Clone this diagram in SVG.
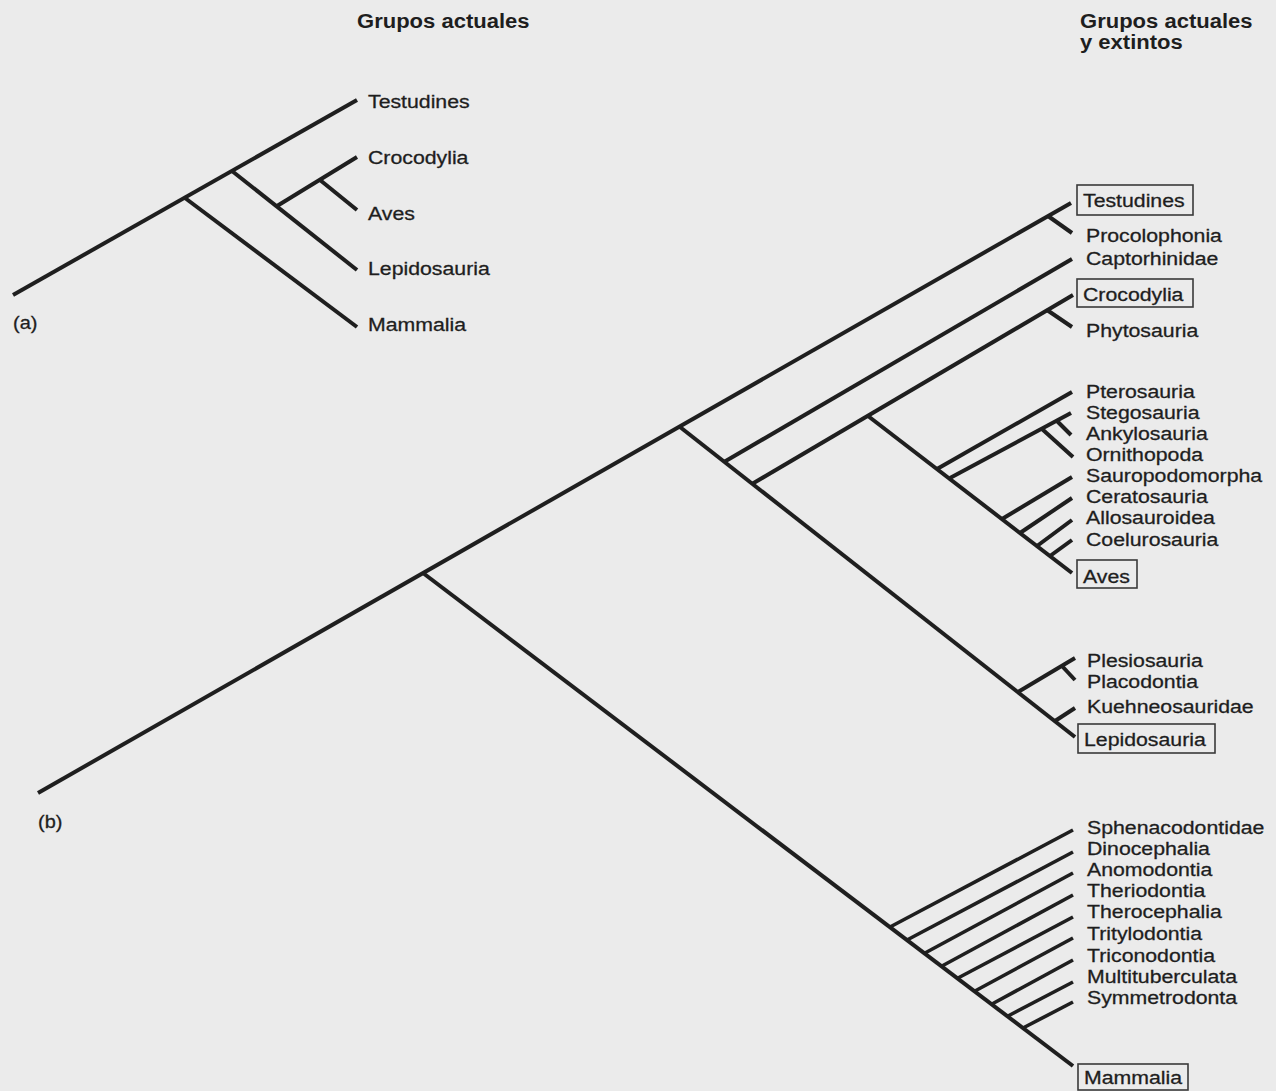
<svg xmlns="http://www.w3.org/2000/svg" width="1276" height="1091" viewBox="0 0 1276 1091">
<style>
.bg{fill:#ebebeb}
.ln{stroke:#1f1f1f;stroke-width:4;fill:none;stroke-linecap:butt}
.thin{stroke-width:3.6}
.t{font-family:"Liberation Sans",Arial,sans-serif;font-size:19px;fill:#1e1e1e;stroke:#1e1e1e;stroke-width:0.3}
.h{font-family:"Liberation Sans",Arial,sans-serif;font-size:19.5px;font-weight:bold;fill:#1e1e1e}
.box{fill:none;stroke:#3a3a3a;stroke-width:1.6}
</style>
<rect class="bg" x="0" y="0" width="1276" height="1091"/>

<g id="headers">
<text class="h" transform="translate(357,28) scale(1.13,1)">Grupos actuales</text>
<text class="h" transform="translate(1080,28) scale(1.13,1)">Grupos actuales</text>
<text class="h" transform="translate(1080,49) scale(1.13,1)">y extintos</text>
</g>

<g id="connectors">
<!-- panel a -->
<path class="ln" d="M13,295 L357,100"/>
<path class="ln" d="M185,198 L357,327"/>
<path class="ln" d="M232,171 L357,270"/>
<path class="ln" d="M277,206 L357,157"/>
<path class="ln" d="M320,180 L357,210"/>
<!-- panel b -->
<path class="ln" d="M38,793 L1071,203"/>
<path class="ln" d="M1048,216 L1072,233"/>
<path class="ln" d="M680,427 L1075,737"/>
<path class="ln" d="M724,462 L1072,259"/>
<path class="ln" d="M752,484 L1073,295"/>
<path class="ln" d="M1047,310 L1072,327"/>
<path class="ln" d="M868,416 L1072,573"/>
<path class="ln" d="M937,469 L1072,392"/>
<path class="ln" d="M950,478 L1071,413"/>
<path class="ln" d="M1042,429 L1073,457"/>
<path class="ln" d="M1057,421 L1071,435"/>
<path class="ln" d="M1002,519 L1072,477"/>
<path class="ln" d="M1020,533 L1072,498"/>
<path class="ln" d="M1037,546 L1072,520"/>
<path class="ln" d="M1050,556 L1072,540"/>
<path class="ln" d="M1018,692 L1075,658"/>
<path class="ln" d="M1062,666 L1075,680"/>
<path class="ln" d="M1055,721 L1075,708"/>
<path class="ln" d="M423,573 L1073,1066"/>
<path class="ln thin" d="M890,927 L1073,830"/>
<path class="ln thin" d="M907,940 L1073,852"/>
<path class="ln thin" d="M925,953 L1073,873"/>
<path class="ln thin" d="M942,966 L1073,895"/>
<path class="ln thin" d="M958,978 L1073,917"/>
<path class="ln thin" d="M975,991 L1073,938"/>
<path class="ln thin" d="M992,1004 L1073,960"/>
<path class="ln thin" d="M1008,1016 L1073,982"/>
<path class="ln thin" d="M1023,1028 L1073,1002"/>
</g>

<g id="panel-a-labels">
<g id="a-testudines"><text class="t" transform="translate(368,108) scale(1.12,1)">Testudines</text></g>
<g id="a-crocodylia"><text class="t" transform="translate(368,164) scale(1.12,1)">Crocodylia</text></g>
<g id="a-aves"><text class="t" transform="translate(368,220) scale(1.12,1)">Aves</text></g>
<g id="a-lepidosauria"><text class="t" transform="translate(368,275) scale(1.12,1)">Lepidosauria</text></g>
<g id="a-mammalia"><text class="t" transform="translate(368,331) scale(1.12,1)">Mammalia</text></g>
<g id="a-tag"><text class="t" transform="translate(13,329) scale(1.05,1)">(a)</text></g>
</g>

<g id="panel-b-labels">
<g id="b-testudines"><rect class="box" x="1077" y="185" width="116" height="30"/><text class="t" transform="translate(1083,207) scale(1.12,1)">Testudines</text></g>
<g id="b-procolophonia"><text class="t" transform="translate(1086,242) scale(1.12,1)">Procolophonia</text></g>
<g id="b-captorhinidae"><text class="t" transform="translate(1086,265) scale(1.12,1)">Captorhinidae</text></g>
<g id="b-crocodylia"><rect class="box" x="1077" y="279" width="116" height="28"/><text class="t" transform="translate(1083,301) scale(1.12,1)">Crocodylia</text></g>
<g id="b-phytosauria"><text class="t" transform="translate(1086,337) scale(1.12,1)">Phytosauria</text></g>
<g id="b-pterosauria"><text class="t" transform="translate(1086,398) scale(1.12,1)">Pterosauria</text></g>
<g id="b-stegosauria"><text class="t" transform="translate(1086,419) scale(1.12,1)">Stegosauria</text></g>
<g id="b-ankylosauria"><text class="t" transform="translate(1086,440) scale(1.12,1)">Ankylosauria</text></g>
<g id="b-ornithopoda"><text class="t" transform="translate(1086,461) scale(1.12,1)">Ornithopoda</text></g>
<g id="b-sauropodomorpha"><text class="t" transform="translate(1086,482) scale(1.12,1)">Sauropodomorpha</text></g>
<g id="b-ceratosauria"><text class="t" transform="translate(1086,503) scale(1.12,1)">Ceratosauria</text></g>
<g id="b-allosauroidea"><text class="t" transform="translate(1086,524) scale(1.12,1)">Allosauroidea</text></g>
<g id="b-coelurosauria"><text class="t" transform="translate(1086,546) scale(1.12,1)">Coelurosauria</text></g>
<g id="b-aves"><rect class="box" x="1077" y="560" width="60" height="28"/><text class="t" transform="translate(1083,583) scale(1.12,1)">Aves</text></g>
<g id="b-plesiosauria"><text class="t" transform="translate(1087,667) scale(1.12,1)">Plesiosauria</text></g>
<g id="b-placodontia"><text class="t" transform="translate(1087,688) scale(1.12,1)">Placodontia</text></g>
<g id="b-kuehneosauridae"><text class="t" transform="translate(1087,713) scale(1.12,1)">Kuehneosauridae</text></g>
<g id="b-lepidosauria"><rect class="box" x="1078" y="724" width="137" height="29"/><text class="t" transform="translate(1084,746) scale(1.12,1)">Lepidosauria</text></g>
<g id="b-sphenacodontidae"><text class="t" transform="translate(1087,834) scale(1.12,1)">Sphenacodontidae</text></g>
<g id="b-dinocephalia"><text class="t" transform="translate(1087,855) scale(1.12,1)">Dinocephalia</text></g>
<g id="b-anomodontia"><text class="t" transform="translate(1087,876) scale(1.12,1)">Anomodontia</text></g>
<g id="b-theriodontia"><text class="t" transform="translate(1087,897) scale(1.12,1)">Theriodontia</text></g>
<g id="b-therocephalia"><text class="t" transform="translate(1087,918) scale(1.12,1)">Therocephalia</text></g>
<g id="b-tritylodontia"><text class="t" transform="translate(1087,940) scale(1.12,1)">Tritylodontia</text></g>
<g id="b-triconodontia"><text class="t" transform="translate(1087,962) scale(1.12,1)">Triconodontia</text></g>
<g id="b-multituberculata"><text class="t" transform="translate(1087,983) scale(1.12,1)">Multituberculata</text></g>
<g id="b-symmetrodonta"><text class="t" transform="translate(1087,1004) scale(1.12,1)">Symmetrodonta</text></g>
<g id="b-mammalia"><rect class="box" x="1078" y="1064" width="110" height="26"/><text class="t" transform="translate(1084,1084) scale(1.12,1)">Mammalia</text></g>
<g id="b-tag"><text class="t" transform="translate(38,828) scale(1.05,1)">(b)</text></g>
</g>
</svg>
